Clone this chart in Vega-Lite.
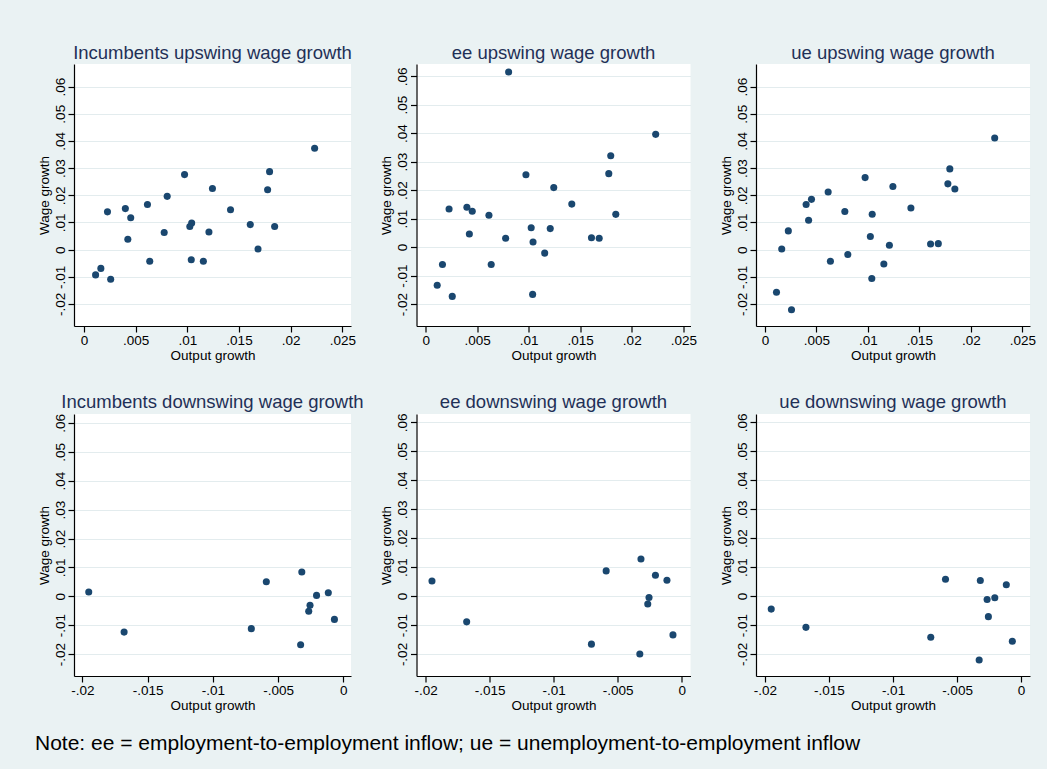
{
  "$schema": "https://vega.github.io/schema/vega-lite/v6.json",
  "background": "#EAF2F3",
  "padding": {"left": 34, "top": 43, "right": 11, "bottom": 19},
  "datasets": {
    "incUp": [
      {"output": 0.00112, "wage": -0.0093}, {"output": 0.00163, "wage": -0.0069}, {"output": 0.00227, "wage": 0.0139},
      {"output": 0.00258, "wage": -0.0109}, {"output": 0.00400, "wage": 0.0151}, {"output": 0.00424, "wage": 0.0038},
      {"output": 0.00452, "wage": 0.0117}, {"output": 0.00614, "wage": 0.0166}, {"output": 0.00636, "wage": -0.0043},
      {"output": 0.00776, "wage": 0.0063}, {"output": 0.00805, "wage": 0.0196}, {"output": 0.00973, "wage": 0.0276},
      {"output": 0.01024, "wage": 0.0085}, {"output": 0.01038, "wage": -0.0037}, {"output": 0.01042, "wage": 0.0098},
      {"output": 0.01155, "wage": -0.0043}, {"output": 0.01209, "wage": 0.0065}, {"output": 0.01243, "wage": 0.0225},
      {"output": 0.01418, "wage": 0.0147}, {"output": 0.01609, "wage": 0.0092}, {"output": 0.01684, "wage": 0.0002},
      {"output": 0.01777, "wage": 0.0220}, {"output": 0.01796, "wage": 0.0287}, {"output": 0.01845, "wage": 0.0085},
      {"output": 0.02232, "wage": 0.0373}
    ],
    "eeUp": [
      {"output": 0.00112, "wage": -0.0134}, {"output": 0.00163, "wage": -0.0061}, {"output": 0.00227, "wage": 0.0134},
      {"output": 0.00258, "wage": -0.0173}, {"output": 0.00400, "wage": 0.0140}, {"output": 0.00424, "wage": 0.0046},
      {"output": 0.00452, "wage": 0.0126}, {"output": 0.00614, "wage": 0.0112}, {"output": 0.00636, "wage": -0.0061},
      {"output": 0.00776, "wage": 0.0031}, {"output": 0.00805, "wage": 0.0615}, {"output": 0.00973, "wage": 0.0254},
      {"output": 0.01024, "wage": 0.0068}, {"output": 0.01038, "wage": -0.0166}, {"output": 0.01042, "wage": 0.0018},
      {"output": 0.01155, "wage": -0.0021}, {"output": 0.01209, "wage": 0.0065}, {"output": 0.01243, "wage": 0.0209},
      {"output": 0.01418, "wage": 0.0151}, {"output": 0.01609, "wage": 0.0033}, {"output": 0.01684, "wage": 0.0031},
      {"output": 0.01777, "wage": 0.0258}, {"output": 0.01796, "wage": 0.0321}, {"output": 0.01845, "wage": 0.0115},
      {"output": 0.02232, "wage": 0.0396}
    ],
    "ueUp": [
      {"output": 0.00112, "wage": -0.0157}, {"output": 0.00163, "wage": 0.0002}, {"output": 0.00227, "wage": 0.0069},
      {"output": 0.00258, "wage": -0.0221}, {"output": 0.00400, "wage": 0.0166}, {"output": 0.00424, "wage": 0.0108},
      {"output": 0.00452, "wage": 0.0185}, {"output": 0.00614, "wage": 0.0212}, {"output": 0.00636, "wage": -0.0043},
      {"output": 0.00776, "wage": 0.0140}, {"output": 0.00805, "wage": -0.0018}, {"output": 0.00973, "wage": 0.0265},
      {"output": 0.01024, "wage": 0.0048}, {"output": 0.01038, "wage": -0.0106}, {"output": 0.01042, "wage": 0.0130},
      {"output": 0.01155, "wage": -0.0053}, {"output": 0.01209, "wage": 0.0016}, {"output": 0.01243, "wage": 0.0232},
      {"output": 0.01418, "wage": 0.0153}, {"output": 0.01609, "wage": 0.0021}, {"output": 0.01684, "wage": 0.0022},
      {"output": 0.01777, "wage": 0.0242}, {"output": 0.01796, "wage": 0.0297}, {"output": 0.01845, "wage": 0.0223},
      {"output": 0.02232, "wage": 0.0411}
    ],
    "incDown": [
      {"output": -0.01951, "wage": 0.0015}, {"output": -0.01680, "wage": -0.0124}, {"output": -0.00705, "wage": -0.0112},
      {"output": -0.00590, "wage": 0.0050}, {"output": -0.00318, "wage": 0.0084}, {"output": -0.00327, "wage": -0.0168},
      {"output": -0.00255, "wage": -0.0031}, {"output": -0.00265, "wage": -0.0052}, {"output": -0.00205, "wage": 0.0003},
      {"output": -0.00115, "wage": 0.0012}, {"output": -0.00068, "wage": -0.0080}
    ],
    "eeDown": [
      {"output": -0.01951, "wage": 0.0052}, {"output": -0.01680, "wage": -0.0089}, {"output": -0.00705, "wage": -0.0166},
      {"output": -0.00590, "wage": 0.0087}, {"output": -0.00318, "wage": 0.0128}, {"output": -0.00327, "wage": -0.0200},
      {"output": -0.00255, "wage": -0.0005}, {"output": -0.00265, "wage": -0.0027}, {"output": -0.00205, "wage": 0.0072},
      {"output": -0.00115, "wage": 0.0055}, {"output": -0.00068, "wage": -0.0134}
    ],
    "ueDown": [
      {"output": -0.01951, "wage": -0.0045}, {"output": -0.01680, "wage": -0.0108}, {"output": -0.00705, "wage": -0.0142},
      {"output": -0.00590, "wage": 0.0058}, {"output": -0.00318, "wage": 0.0054}, {"output": -0.00327, "wage": -0.0221},
      {"output": -0.00255, "wage": -0.0071}, {"output": -0.00265, "wage": -0.0012}, {"output": -0.00205, "wage": -0.0006},
      {"output": -0.00115, "wage": 0.0039}, {"output": -0.00068, "wage": -0.0156}
    ]
  },
  "title": {
    "text": "Note: ee = employment-to-employment inflow; ue = unemployment-to-employment inflow",
    "orient": "bottom", "anchor": "start", "frame": "bounds",
    "fontSize": 21, "fontWeight": "normal", "color": "black",
    "baseline": "top", "offset": 21, "dx": -2
  },
  "columns": 3,
  "bounds": "flush",
  "spacing": {"row": 88, "column": 65.5},
  "concat": [
    {
      "width": 277, "height": 262,
      "title": "Incumbents upswing wage growth",
      "data": {"name": "incUp"},
      "mark": {"type": "circle", "size": 50, "opacity": 1, "color": "#1A476F"},
      "encoding": {
        "x": {"field": "output", "type": "quantitative", "title": "Output growth",
              "scale": {"domain": [-0.00097, 0.02584], "nice": false, "zero": false},
              "axis": {"values": [0, 0.005, 0.01, 0.015, 0.02, 0.025]}},
        "y": {"field": "wage", "type": "quantitative", "title": "Wage growth",
              "scale": {"domain": [-0.0281, 0.0683], "nice": false, "zero": false},
              "axis": {"values": [-0.02, -0.01, 0, 0.01, 0.02, 0.03, 0.04, 0.05, 0.06]}}
      }
    },
    {
      "width": 274, "height": 262,
      "title": "ee upswing wage growth",
      "data": {"name": "eeUp"},
      "mark": {"type": "circle", "size": 50, "opacity": 1, "color": "#1A476F"},
      "encoding": {
        "x": {"field": "output", "type": "quantitative", "title": "Output growth",
              "scale": {"domain": [-0.00089, 0.0257], "nice": false, "zero": false},
              "axis": {"values": [0, 0.005, 0.01, 0.015, 0.02, 0.025]}},
        "y": {"field": "wage", "type": "quantitative", "title": "Wage growth",
              "scale": {"domain": [-0.0277, 0.0643], "nice": false, "zero": false},
              "axis": {"values": [-0.02, -0.01, 0, 0.01, 0.02, 0.03, 0.04, 0.05, 0.06]}}
      }
    },
    {
      "width": 274, "height": 262,
      "title": "ue upswing wage growth",
      "data": {"name": "ueUp"},
      "mark": {"type": "circle", "size": 50, "opacity": 1, "color": "#1A476F"},
      "encoding": {
        "x": {"field": "output", "type": "quantitative", "title": "Output growth",
              "scale": {"domain": [-0.00087, 0.02575], "nice": false, "zero": false},
              "axis": {"values": [0, 0.005, 0.01, 0.015, 0.02, 0.025]}},
        "y": {"field": "wage", "type": "quantitative", "title": "Wage growth",
              "scale": {"domain": [-0.0281, 0.0683], "nice": false, "zero": false},
              "axis": {"values": [-0.02, -0.01, 0, 0.01, 0.02, 0.03, 0.04, 0.05, 0.06]}}
      }
    },
    {
      "width": 277, "height": 262,
      "title": "Incumbents downswing wage growth",
      "data": {"name": "incDown"},
      "mark": {"type": "circle", "size": 50, "opacity": 1, "color": "#1A476F"},
      "encoding": {
        "x": {"field": "output", "type": "quantitative", "title": "Output growth",
              "scale": {"domain": [-0.02064, 0.00059], "nice": false, "zero": false},
              "axis": {"values": [-0.02, -0.015, -0.01, -0.005, 0]}},
        "y": {"field": "wage", "type": "quantitative", "title": "Wage growth",
              "scale": {"domain": [-0.0276, 0.0631], "nice": false, "zero": false},
              "axis": {"values": [-0.02, -0.01, 0, 0.01, 0.02, 0.03, 0.04, 0.05, 0.06]}}
      }
    },
    {
      "width": 274, "height": 262,
      "title": "ee downswing wage growth",
      "data": {"name": "eeDown"},
      "mark": {"type": "circle", "size": 50, "opacity": 1, "color": "#1A476F"},
      "encoding": {
        "x": {"field": "output", "type": "quantitative", "title": "Output growth",
              "scale": {"domain": [-0.02072, 0.00069], "nice": false, "zero": false},
              "axis": {"values": [-0.02, -0.015, -0.01, -0.005, 0]}},
        "y": {"field": "wage", "type": "quantitative", "title": "Wage growth",
              "scale": {"domain": [-0.0276, 0.0629], "nice": false, "zero": false},
              "axis": {"values": [-0.02, -0.01, 0, 0.01, 0.02, 0.03, 0.04, 0.05, 0.06]}}
      }
    },
    {
      "width": 274, "height": 262,
      "title": "ue downswing wage growth",
      "data": {"name": "ueDown"},
      "mark": {"type": "circle", "size": 50, "opacity": 1, "color": "#1A476F"},
      "encoding": {
        "x": {"field": "output", "type": "quantitative", "title": "Output growth",
              "scale": {"domain": [-0.0207, 0.0007], "nice": false, "zero": false},
              "axis": {"values": [-0.02, -0.015, -0.01, -0.005, 0]}},
        "y": {"field": "wage", "type": "quantitative", "title": "Wage growth",
              "scale": {"domain": [-0.0276, 0.0629], "nice": false, "zero": false},
              "axis": {"values": [-0.02, -0.01, 0, 0.01, 0.02, 0.03, 0.04, 0.05, 0.06]}}
      }
    }
  ],
  "config": {
    "font": "Liberation Sans",
    "view": {"stroke": null, "fill": "white"},
    "axis": {
      "domainColor": "black", "domainWidth": 1.2,
      "tickColor": "black", "tickWidth": 1.2, "tickSize": 6,
      "labelColor": "black", "labelFontSize": 13.5, "labelFont": "Liberation Sans",
      "titleColor": "black", "titleFontSize": 13.5, "titleFont": "Liberation Sans", "titleFontWeight": "normal",
      "labelFlush": false, "labelOverlap": false, "labelBound": false,
      "labelExpr": "datum.value == 0 ? '0' : (datum.value < 0 ? '-' : '') + replace(format(abs(datum.value), '.3~f'), '0.', '.')"
    },
    "axisX": {"grid": false, "labelPadding": 1, "titlePadding": 2},
    "axisY": {
      "grid": true, "gridColor": "#E3ECEE", "gridWidth": 1.2,
      "labelAngle": 270, "labelAlign": "center", "labelBaseline": "alphabetic",
      "labelPadding": 4, "titlePadding": 2
    },
    "title": {
      "fontSize": 18.5, "fontWeight": "normal", "color": "#1F3057",
      "frame": "group", "anchor": "middle", "baseline": "alphabetic", "offset": 2,
      "font": "Liberation Sans"
    }
  }
}
